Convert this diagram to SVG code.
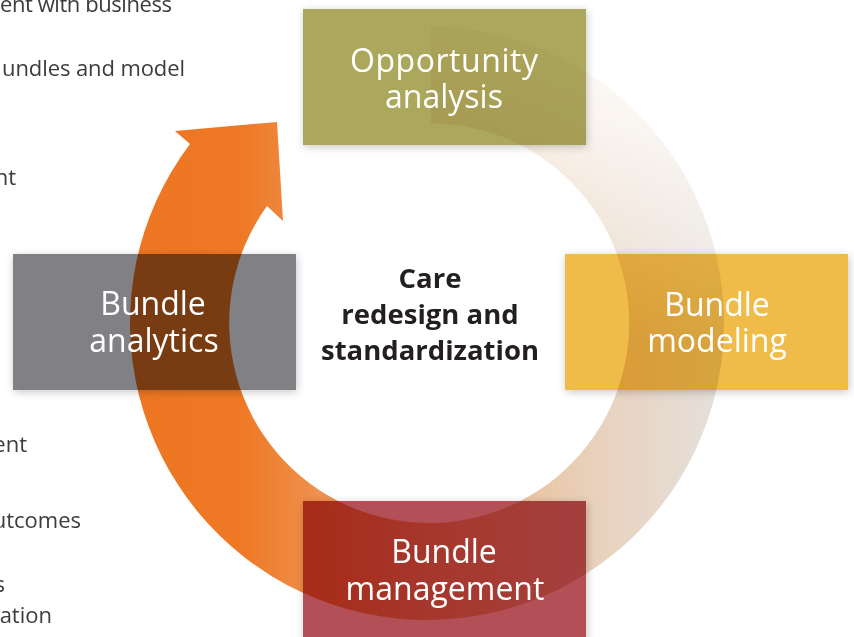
<svg xmlns="http://www.w3.org/2000/svg" width="854" height="637" viewBox="0 0 854 637">
  <style>
    .side { font-family: "Open Sans", "Noto Sans", sans-serif; font-size: 22px; fill: #3c3c3c; text-anchor: end; }
    .box { mix-blend-mode: multiply; filter: url(#shadow); }
    .lbl { font-family: "Open Sans", "Noto Sans", sans-serif; font-size: 32px; fill: #ffffff; text-anchor: middle; }
    .center { font-family: "Open Sans", "Noto Sans", sans-serif; font-size: 27.5px; font-weight: bold; fill: #231f20; text-anchor: middle; }
  </style>
  <defs>
    <filter id="shadow" x="-10%" y="-15%" width="120%" height="130%">
      <feDropShadow dx="1" dy="2" stdDeviation="4" flood-color="#000000" flood-opacity="0.22"/>
    </filter>
    <linearGradient id="ringGrad" gradientUnits="userSpaceOnUse" x1="132" y1="0" x2="728" y2="0">
      <stop offset="0" stop-color="#ee7623"/>
      <stop offset="0.18" stop-color="#ee7824"/>
      <stop offset="0.32" stop-color="#ee9251"/>
      <stop offset="0.5" stop-color="#ecb083"/>
      <stop offset="0.65" stop-color="#eac4a0"/>
      <stop offset="0.8" stop-color="#e8d3c0"/>
      <stop offset="1" stop-color="#e5e1dd"/>
    </linearGradient>
    <linearGradient id="fadeGrad" gradientUnits="userSpaceOnUse" x1="0" y1="20" x2="0" y2="345">
      <stop offset="0" stop-color="#ffffff" stop-opacity="0.07"/>
      <stop offset="0.34" stop-color="#ffffff" stop-opacity="0.25"/>
      <stop offset="0.7" stop-color="#ffffff" stop-opacity="0.6"/>
      <stop offset="1" stop-color="#ffffff" stop-opacity="1"/>
    </linearGradient>
    <mask id="ringMask" maskUnits="userSpaceOnUse" x="0" y="0" width="854" height="637">
      <rect x="0" y="0" width="431" height="637" fill="#ffffff"/>
      <rect x="431" y="0" width="423" height="637" fill="url(#fadeGrad)"/>
    </mask>
  </defs>

  <g id="side-text">
    <text class="side" x="172" y="12" textLength="172">ent with business</text>
    <text class="side" x="185" y="76" textLength="183">undles and model</text>
    <text class="side" x="16" y="185">nt</text>
    <text class="side" x="27" y="452">ent</text>
    <text class="side" x="81" y="528">utcomes</text>
    <text class="side" x="5" y="592">s</text>
    <text class="side" x="52" y="623">ation</text>
  </g>

  <g id="connectors">
    <path id="cycle-arrow" fill="url(#ringGrad)" mask="url(#ringMask)"
      d="M431,26 A297,297 0 1 1 190,144 L175,131 L277,122 L283,221 L267,206 A200,200 0 1 0 431,123 Z"/>
  </g>

  <g id="center">
    <text class="center" x="430" y="288">Care</text>
    <text class="center" x="430" y="324">redesign and</text>
    <text class="center" x="430" y="360">standardization</text>
  </g>

  <g id="opportunity-analysis">
    <rect class="box" x="303" y="9" width="283" height="136" fill="#aba75d"/>
    <text class="lbl" x="444" y="72" textLength="188">Opportunity</text>
    <text class="lbl" x="444" y="108">analysis</text>
  </g>

  <g id="bundle-analytics">
    <rect class="box" x="13" y="254" width="283" height="136" fill="#818085"/>
    <text class="lbl" x="153" y="315">Bundle</text>
    <text class="lbl" x="154" y="352">analytics</text>
  </g>

  <g id="bundle-modeling">
    <rect class="box" x="565" y="254" width="283" height="136" fill="#efbb4a"/>
    <text class="lbl" x="717" y="316">Bundle</text>
    <text class="lbl" x="717" y="352">modeling</text>
  </g>

  <g id="bundle-management">
    <rect class="box" x="303" y="501" width="283" height="145" fill="#b35057"/>
    <text class="lbl" x="444" y="563">Bundle</text>
    <text class="lbl" x="445" y="600">management</text>
  </g>
</svg>
